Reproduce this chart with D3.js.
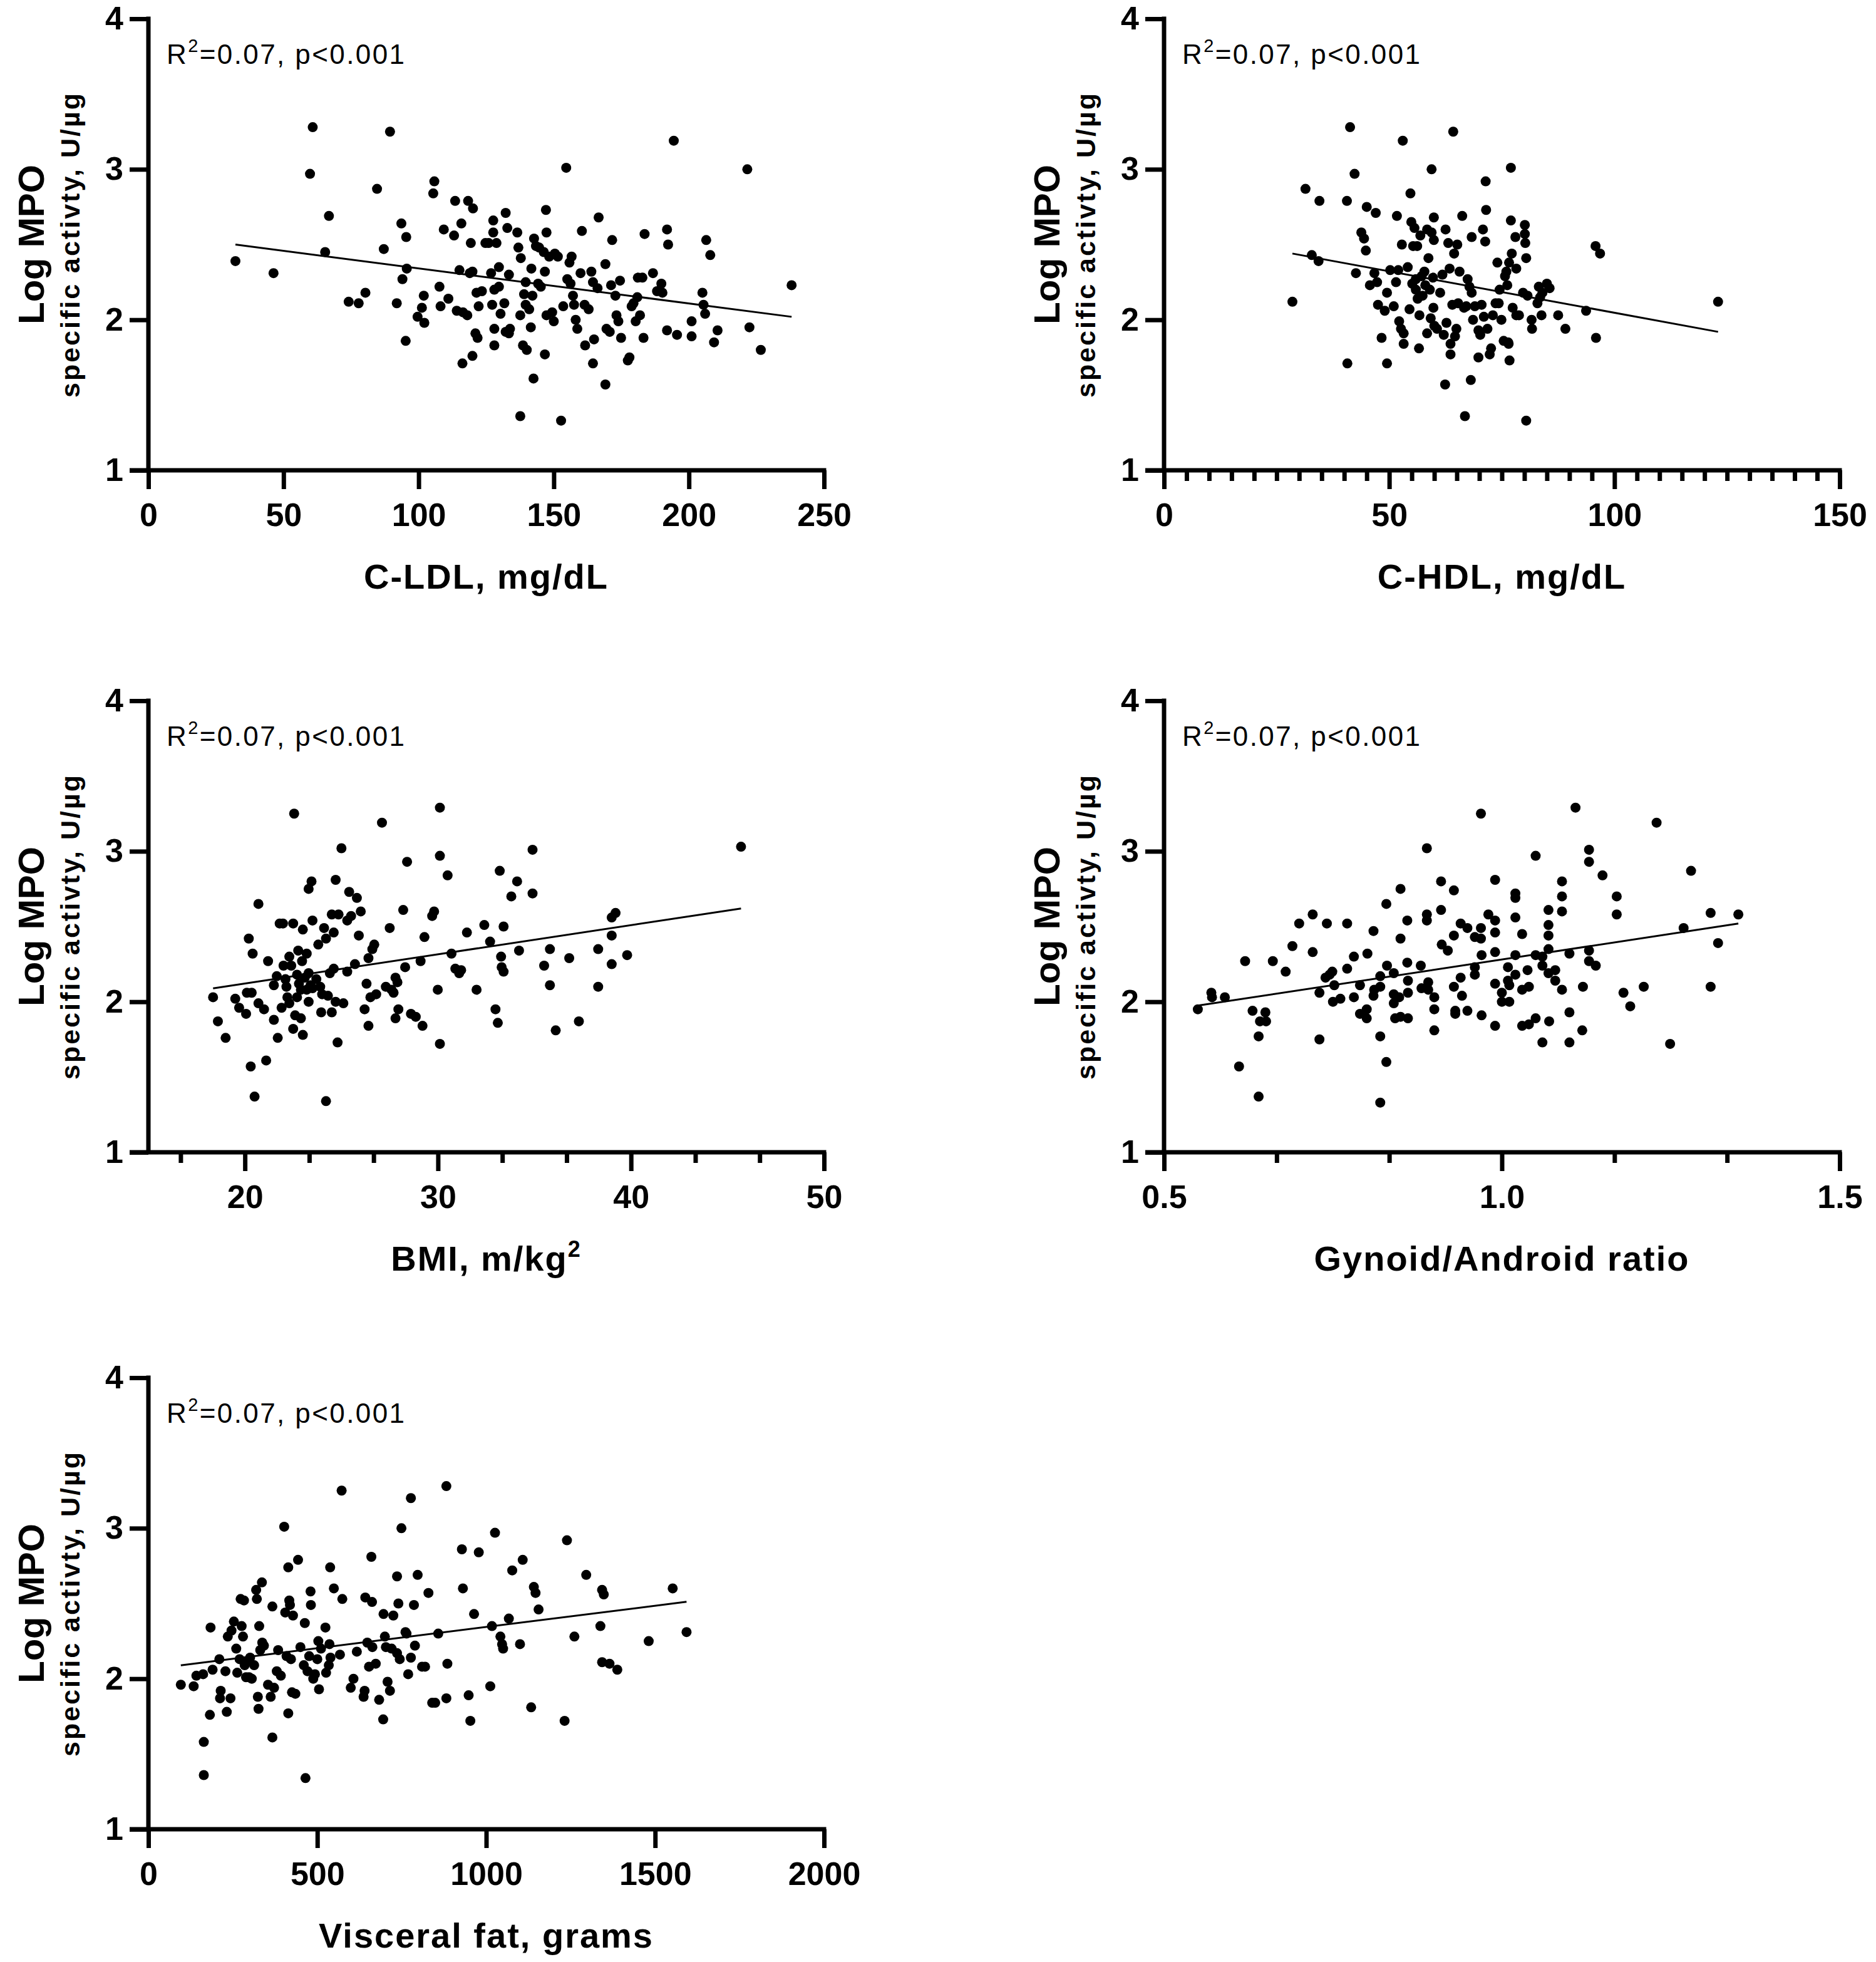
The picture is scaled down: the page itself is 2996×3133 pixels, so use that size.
<!DOCTYPE html>
<html>
<head>
<meta charset="utf-8">
<script src="https://cdn.jsdelivr.net/npm/d3@7"></script>
<style>
  html, body { margin: 0; padding: 0; background: #fff; }
  svg { display: block; }
</style>
</head>
<body>
<svg id="chart"></svg>
<script>
// ---------------- DATA ----------------
const yTickValues = [1, 2, 3, 4];
const statLabel = "=0.07, p<0.001";

// Panel A: C-LDL
const ldlX = [32.2,46.3,60.8,59.8,66.8,65.4,74.1,77.8,80.3,84.6,
87.1,89.4,91.9,93.6,95.4,94.0,95.6,95.2,99.6,102.1,
101.9,101.2,105.8,105.4,107.7,108.1,109.3,111.0,113.1,113.5,
114.1,115.1,115.8,116.2,116.4,118.3,118.0,118.9,119.3,120.1,
119.9,119.9,121.0,121.4,121.8,122.2,123.4,124.7,125.9,126.8,
127.2,127.6,127.6,128.0,128.0,128.0,128.8,129.7,129.7,130.3,
131.7,132.2,132.2,132.8,133.4,133.8,133.4,136.5,136.9,137.6,
137.6,137.8,138.6,139.0,139.6,139.6,140.0,140.9,141.5,141.7,
142.1,142.5,142.7,143.4,144.2,144.6,145.2,146.3,146.7,146.7,
147.1,147.3,147.3,148.3,149.4,150.0,150.4,151.5,152.7,153.5,
154.6,155.0,155.8,156.2,156.6,157.1,157.5,158.1,158.7,159.9,
160.4,161.4,161.6,162.9,163.9,164.5,164.5,164.9,166.2,166.6,
169.1,169.1,169.5,170.7,171.2,171.6,172.8,173.2,173.9,174.5,
174.9,177.4,178.0,178.8,179.5,180.3,180.9,181.9,181.1,182.8,
183.2,183.6,186.7,188.2,189.8,190.2,191.9,192.3,191.9,194.4,
195.6,201.0,201.0,205.0,205.4,206.0,206.4,207.9,209.3,210.6,
221.6,222.4,226.6,238.0];
const ldlY = [2.39,2.31,3.28,2.97,2.69,2.45,2.12,2.11,2.18,2.87,
2.47,3.25,2.11,2.64,2.55,2.27,2.34,1.86,2.02,1.98,
2.16,2.08,2.92,2.84,2.22,2.09,2.60,2.14,2.56,2.79,
2.06,2.33,2.64,1.71,2.05,2.79,2.03,2.31,2.51,2.74,
2.32,1.76,1.91,2.18,1.88,2.09,2.19,2.51,2.51,2.31,
2.10,2.66,2.58,1.83,1.94,2.20,2.51,2.35,2.22,2.04,
2.11,2.71,1.92,2.61,2.30,1.94,1.91,2.58,2.48,1.36,
2.03,2.41,1.83,2.17,2.25,2.10,1.80,2.07,1.95,2.34,
2.16,1.61,2.54,2.49,2.24,2.48,2.22,2.45,2.32,1.77,
2.73,2.58,2.03,2.42,2.05,1.99,2.44,2.42,1.33,2.09,
3.01,2.27,2.38,2.24,2.42,2.16,2.10,2.00,1.94,2.31,
2.59,2.10,1.83,2.07,2.32,2.25,1.71,1.87,2.21,2.68,
1.57,2.37,1.94,1.92,2.23,2.53,2.16,2.03,1.99,2.26,
1.88,1.73,1.75,2.09,2.11,1.99,2.15,2.03,2.28,2.28,
1.88,2.57,2.31,2.19,2.24,2.18,2.60,2.50,1.93,3.19,
1.90,1.99,1.89,2.18,2.10,2.04,2.53,2.43,1.85,1.93,
3.00,1.95,1.80,2.23];
const ldlFit = [-0.002332, 2.575]; // slope, intercept
const ldlTicks = [0, 50, 100, 150, 200, 250];

// Panel B: C-HDL
const hdlX = [28.5,31.4,32.8,34.3,34.5,40.6,40.7,41.3,42.3,42.6,
43.8,44.4,44.8,45.0,45.7,46.7,47.0,47.3,47.5,48.3,
49.0,49.5,49.5,50.2,51.0,51.5,51.7,52.0,52.2,52.6,
52.8,53.0,53.2,53.2,54.1,54.5,54.7,54.9,55.1,55.3,
55.6,55.9,55.9,56.2,56.3,56.6,56.7,56.9,57.2,57.4,
57.8,58.0,58.4,58.4,58.7,59.0,59.2,59.4,59.4,59.7,
59.8,59.9,59.9,60.0,60.6,61.3,61.8,62.1,62.4,62.5,
62.7,63.1,63.4,63.6,63.6,64.0,64.2,64.4,64.6,64.9,
65.1,65.3,65.6,66.2,66.6,66.8,67.1,67.4,67.8,68.1,
68.3,68.3,68.6,69.0,69.8,69.8,70.2,70.5,70.8,71.0,
71.3,71.4,71.5,71.8,72.3,72.6,73.0,73.6,74.0,74.3,
74.5,74.9,75.4,75.7,76.0,76.2,76.4,76.5,76.6,76.7,
77.0,77.0,77.2,77.4,78.0,78.2,78.2,78.8,79.7,80.1,
80.1,80.2,80.4,80.4,80.7,81.6,81.7,82.9,83.2,83.5,
83.8,84.0,85.0,85.6,87.5,89.1,93.7,95.8,95.9,96.8,
123.0];
const hdlY = [2.12,2.87,2.43,2.39,2.79,2.79,1.71,3.28,2.97,2.31,
2.58,2.54,2.46,2.75,2.23,2.31,2.71,2.25,2.10,1.88,
2.06,1.71,2.18,2.33,2.09,2.25,2.69,2.33,1.99,1.94,
2.50,3.19,1.91,1.84,2.35,2.07,2.84,2.65,2.24,2.49,
2.61,2.27,2.20,2.49,2.14,1.81,2.03,2.56,2.29,2.16,
2.32,2.23,2.60,1.91,2.41,2.20,2.01,3.00,2.58,2.28,
2.08,2.68,2.53,1.96,1.94,2.18,2.30,1.90,1.57,2.60,
1.98,2.51,2.34,1.84,1.77,2.10,3.25,2.44,1.89,1.94,
2.50,2.11,2.32,2.69,2.08,1.36,2.09,2.27,2.22,1.60,
2.18,2.55,2.00,2.09,1.75,1.93,1.90,2.10,2.60,2.02,
2.52,2.92,2.73,1.94,1.77,1.81,2.03,2.11,2.38,2.11,
2.20,2.00,1.86,2.29,2.32,2.23,1.85,1.84,2.38,1.73,
2.66,3.01,2.44,2.08,2.55,2.34,2.03,2.03,2.18,2.63,
2.57,2.51,2.41,1.33,2.16,2.00,1.94,2.11,2.22,2.15,
2.03,2.18,2.24,2.21,2.03,1.94,2.06,2.49,1.88,2.44,
2.12];
const hdlFit = [-0.005503, 2.597];
const hdlTicks = [0, 50, 100, 150];
const hdlMinorTicks = [5,10,15,20,25,30,35,40,45,55,60,65,70,75,80,85,90,95,105,110,115,120,125,130,135,140,145];

// Panel C: BMI
const bmiX = [18.35,18.6,19.0,19.5,19.7,20.06,20.1,20.2,20.3,20.35,
20.4,20.5,20.7,20.7,20.99,21.1,21.2,21.5,21.5,21.65,
21.7,21.8,21.9,21.97,22.0,22.1,22.15,22.2,22.3,22.3,
22.4,22.5,22.5,22.55,22.6,22.7,22.7,22.76,22.8,22.9,
22.9,22.96,23.0,23.0,23.1,23.2,23.2,23.3,23.3,23.3,
23.4,23.45,23.5,23.5,23.7,23.8,23.9,23.95,24.0,24.1,
24.2,24.2,24.3,24.4,24.5,24.5,24.6,24.6,24.7,24.7,
24.8,24.85,25.0,25.1,25.3,25.3,25.4,25.5,25.7,25.8,
25.9,26.0,26.2,26.3,26.4,26.4,26.5,26.6,26.7,26.8,
27.1,27.3,27.5,27.6,27.7,27.8,27.8,27.9,27.95,28.2,
28.3,28.4,28.6,28.85,29.1,29.2,29.3,29.7,29.8,29.99,
30.1,30.1,30.1,30.5,30.7,30.9,31.1,31.2,31.5,32.0,
32.4,32.7,32.98,33.1,33.2,33.27,33.3,33.4,33.4,33.8,
34.1,34.2,34.9,34.9,35.5,35.8,35.8,36.1,36.8,37.3,
38.3,38.3,39.0,39.0,39.0,39.2,39.8,45.7];
const bmiY = [2.03,1.87,1.76,2.02,1.96,1.92,2.06,2.42,1.57,2.06,
2.32,1.37,2.65,1.99,1.95,1.61,2.27,1.88,2.11,2.17,
1.76,2.52,1.96,2.52,2.24,2.15,2.10,2.03,2.30,1.99,
2.24,1.82,2.52,3.25,1.91,2.18,2.03,2.34,2.12,2.08,
1.89,2.27,1.78,2.48,2.16,2.08,2.32,2.00,2.19,2.75,
2.11,2.80,2.54,2.09,2.15,2.38,2.10,1.93,2.05,2.49,
1.34,2.42,2.04,2.19,1.93,2.58,2.46,2.22,2.81,2.00,
1.73,2.58,3.02,1.99,2.20,2.54,2.73,2.57,2.25,2.69,
2.44,2.60,1.95,2.12,2.29,1.84,2.03,2.35,2.38,2.05,
3.19,2.10,2.49,2.08,2.06,2.16,1.89,2.13,1.95,2.61,
2.23,2.93,1.92,1.90,2.27,1.84,2.43,2.57,2.60,2.08,
2.97,1.72,3.29,2.84,2.32,2.22,2.19,2.21,2.46,2.08,
2.51,2.40,1.95,1.86,2.87,2.30,2.23,2.20,2.50,2.70,
2.80,2.34,3.01,2.72,2.24,2.11,2.35,1.81,2.29,1.87,
2.35,2.10,2.44,2.25,2.56,2.59,2.31,3.03];
const bmiFit = [0.01941, 1.733];
const bmiTicks = [20, 30, 40, 50];
const bmiMinorTicks = [50/3, 70/3, 80/3, 100/3, 110/3, 130/3, 140/3];

// Panel D: Gynoid/Android ratio
const gaX = [0.550,0.570,0.571,0.590,0.611,0.620,0.631,0.640,0.640,0.642,
0.650,0.651,0.661,0.680,0.690,0.700,0.720,0.720,0.730,0.730,
0.739,0.741,0.745,0.749,0.750,0.752,0.761,0.771,0.771,0.781,
0.781,0.790,0.790,0.800,0.800,0.801,0.810,0.810,0.811,0.820,
0.820,0.820,0.820,0.829,0.829,0.830,0.840,0.840,0.840,0.842,
0.848,0.850,0.850,0.850,0.860,0.860,0.861,0.861,0.861,0.880,
0.881,0.889,0.889,0.889,0.891,0.891,0.900,0.900,0.900,0.910,
0.910,0.911,0.920,0.929,0.929,0.929,0.931,0.931,0.939,0.939,
0.941,0.949,0.949,0.960,0.960,0.960,0.969,0.969,0.969,0.970,
0.970,0.980,0.990,0.990,0.990,0.990,0.990,0.990,1.000,1.000,
1.009,1.009,1.011,1.011,1.020,1.020,1.020,1.020,1.020,1.030,
1.030,1.030,1.038,1.040,1.040,1.050,1.050,1.050,1.060,1.060,
1.060,1.069,1.069,1.069,1.069,1.069,1.070,1.079,1.079,1.089,
1.089,1.089,1.089,1.100,1.100,1.100,1.109,1.119,1.120,1.129,
1.129,1.129,1.129,1.139,1.149,1.170,1.170,1.180,1.190,1.210,
1.229,1.249,1.269,1.280,1.309,1.309,1.320,1.350];
const gaY = [1.95,2.06,2.03,2.03,1.57,2.27,1.94,1.37,1.77,1.87,
1.93,1.87,2.27,2.20,2.37,2.52,2.33,2.58,2.06,1.75,
2.16,2.52,2.18,2.20,2.00,2.11,2.02,2.52,2.22,2.30,
2.03,2.11,1.92,1.95,1.89,2.32,2.47,2.04,2.08,1.33,
1.77,2.17,2.10,2.65,1.60,2.24,2.19,2.05,1.99,1.89,
2.03,2.75,2.42,1.90,2.54,2.26,2.14,1.89,2.06,2.24,
2.09,3.02,2.58,2.54,2.13,2.08,1.81,1.95,2.03,2.80,
2.61,2.38,2.34,2.74,2.44,2.10,1.94,1.92,2.52,2.16,
2.04,2.49,1.94,2.18,2.23,2.43,3.25,2.49,2.42,2.31,
1.91,2.58,2.81,2.54,2.46,2.33,1.84,2.12,2.00,2.06,
2.23,2.14,2.00,2.11,2.72,2.69,2.56,2.31,2.18,2.45,
2.08,1.84,2.21,2.10,1.85,2.97,1.89,2.31,1.73,2.30,
2.24,2.61,2.51,2.44,2.35,2.19,1.87,2.21,2.14,2.80,
2.70,2.60,2.08,1.73,1.93,2.32,3.29,1.81,2.10,3.01,
2.93,2.34,2.27,2.24,2.84,2.70,2.58,2.06,1.97,2.10,
3.19,1.72,2.49,2.87,2.59,2.10,2.39,2.58];
const gaFit = [0.681, 1.600];
const gaTicks = [0.5, 1.0, 1.5];
const gaMinorTicks = [2/3, 5/6, 7/6, 4/3];

// Panel E: Visceral fat
const vfX = [96,134,142,162,164,164,182,184,190,210,
212,214,228,232,235,243,246,253,260,263,
270,273,276,280,283,285,289,296,298,301,
306,313,319,321,324,326,328,331,336,337,
342,354,362,367,367,372,380,384,392,402,
405,409,414,414,417,419,422,425,428,435,
443,450,460,463,465,471,476,480,481,488,
493,500,503,505,511,524,526,534,536,538,
539,549,567,572,574,599,607,617,637,640,
642,648,653,660,662,663,673,683,695,696,
700,703,708,715,720,725,736,736,740,744,
749,761,764,769,777,777,786,789,797,810,
819,829,840,849,858,882,885,882,928,931,
948,953,964,978,1012,1017,1026,1042,1047,1050,
1067,1077,1100,1108,1133,1141,1146,1155,1232,1239,
1261,1296,1338,1343,1348,1343,1365,1388,1481,1552,1593];
const vfY = [1.96,1.95,2.02,2.03,1.58,1.36,1.76,2.34,2.06,2.13,
1.87,1.92,2.05,1.78,2.28,1.87,2.32,2.38,2.20,2.04,
2.13,2.53,2.35,2.28,2.52,2.09,2.01,2.12,2.01,2.14,
2.00,2.09,2.59,2.53,1.88,1.80,2.35,2.19,2.64,2.24,
2.22,1.96,1.88,2.48,1.61,1.94,2.05,2.19,2.02,3.01,
2.44,2.15,2.74,1.77,2.52,2.49,2.13,1.91,2.42,1.90,
2.79,2.21,2.09,2.37,1.34,2.05,2.15,2.58,2.49,2.00,
2.03,2.13,2.25,1.93,2.20,2.34,2.04,2.09,2.23,2.74,
2.14,2.60,2.16,3.25,2.53,1.94,2.00,2.18,1.88,1.92,
2.54,2.24,2.08,2.81,2.51,2.21,2.10,1.86,1.73,2.43,
2.28,2.21,1.98,1.92,2.20,2.42,2.68,2.17,2.50,2.13,
3.00,2.31,2.30,2.03,3.20,2.14,2.49,2.22,2.69,2.08,
2.08,2.57,1.84,1.84,2.30,3.28,2.10,1.87,2.86,2.60,
1.89,1.72,2.43,2.84,1.95,2.35,2.97,2.28,2.23,2.20,
2.40,2.72,2.23,2.79,1.81,2.61,2.57,2.46,1.72,2.92,
2.28,2.69,2.35,2.59,2.56,2.11,2.10,2.06,2.25,2.60,2.31];
const vfFit = [0.000282, 2.062];
const vfTicks = [0, 500, 1000, 1500, 2000];

// ---------------- PANEL SPECS ----------------
const panels = [
  { xs: ldlX, ys: ldlY, fit: ldlFit, domain: [0, 250], ticks: ldlTicks, minor: [], fmt: d3.format("d"),
    title: "C-LDL, mg/dL", sup: null, left: 237, top: 30 },
  { xs: hdlX, ys: hdlY, fit: hdlFit, domain: [0, 150], ticks: hdlTicks, minor: hdlMinorTicks, fmt: d3.format("d"),
    title: "C-HDL, mg/dL", sup: null, left: 1859, top: 30 },
  { xs: bmiX, ys: bmiY, fit: bmiFit, domain: [15, 50], ticks: bmiTicks, minor: bmiMinorTicks, fmt: d3.format("d"),
    title: "BMI, m/kg", sup: "2", left: 237, top: 1119 },
  { xs: gaX, ys: gaY, fit: gaFit, domain: [0.5, 1.5], ticks: gaTicks, minor: gaMinorTicks, fmt: d3.format(".1f"),
    title: "Gynoid/Android ratio", sup: null, left: 1859, top: 1119 },
  { xs: vfX, ys: vfY, fit: vfFit, domain: [0, 2000], ticks: vfTicks, minor: [], fmt: d3.format("d"),
    title: "Visceral fat, grams", sup: null, left: 237, top: 2200 }
];

// ---------------- DRAW ----------------
const W = 2996, H = 3133;
const plotW = 1079, plotH = 721;
const FONT = "'Liberation Sans', Arial, Helvetica, sans-serif";
const AX = 7;      // axis stroke width
const TICK = 30;   // major tick length
const MINOR = 17;  // minor tick length

const svg = d3.select("#chart").attr("width", W).attr("height", H)
  .attr("viewBox", `0 0 ${W} ${H}`)
  .style("font-family", FONT);

svg.append("rect").attr("width", W).attr("height", H).attr("fill", "#fff");

panels.forEach(p => {
  const g = svg.append("g").attr("transform", `translate(${p.left},${p.top})`);
  const x = d3.scaleLinear().domain(p.domain).range([0, plotW]);
  const y = d3.scaleLinear().domain([1, 4]).range([plotH, 0]);

  // x axis (major)
  g.append("g").attr("transform", `translate(0,${plotH})`)
    .call(d3.axisBottom(x).tickValues(p.ticks).tickFormat(p.fmt)
      .tickSize(TICK).tickSizeOuter(0).tickPadding(22));
  // x axis (minor)
  if (p.minor.length) {
    g.append("g").attr("class", "minor").attr("transform", `translate(0,${plotH})`)
      .call(d3.axisBottom(x).tickValues(p.minor).tickFormat("")
        .tickSize(MINOR).tickSizeOuter(0));
  }
  // y axis
  g.append("g")
    .call(d3.axisLeft(y).tickValues(yTickValues).tickFormat(d3.format("d"))
      .tickSize(TICK).tickSizeOuter(0).tickPadding(10));

  g.selectAll(".domain").remove();
  g.selectAll(".tick line").attr("stroke", "#000").attr("stroke-width", AX);
  g.selectAll(".tick text").attr("fill", "#000")
    .style("font-family", FONT).style("font-weight", "bold").style("font-size", "52px");

  // axis lines
  g.append("line").attr("x1", -TICK).attr("x2", plotW + AX / 2)
    .attr("y1", plotH).attr("y2", plotH)
    .attr("stroke", "#000").attr("stroke-width", AX);
  g.append("line").attr("x1", 0).attr("x2", 0)
    .attr("y1", -AX / 2).attr("y2", plotH)
    .attr("stroke", "#000").attr("stroke-width", AX);

  // points
  const pts = p.xs.map((v, i) => [v, p.ys[i]]);
  g.append("g").selectAll("circle").data(pts).join("circle")
    .attr("cx", d => x(d[0])).attr("cy", d => y(d[1]))
    .attr("r", 8).attr("fill", "#000");

  // regression line across data range
  const [x0, x1] = d3.extent(p.xs);
  const fitPts = [x0, x1].map(v => [v, p.fit[0] * v + p.fit[1]]);
  g.append("path").datum(fitPts)
    .attr("d", d3.line().x(d => x(d[0])).y(d => y(d[1])))
    .attr("fill", "none").attr("stroke", "#000").attr("stroke-width", 3);

  // stats annotation
  const st = g.append("text").attr("x", 29).attr("y", 72)
    .style("font-size", "44px").style("letter-spacing", "2.4px").attr("fill", "#000");
  st.append("tspan").text("R");
  st.append("tspan").attr("dy", -19).style("font-size", "29px").text("2");
  st.append("tspan").attr("dy", 19).text(statLabel);

  // y axis titles
  g.append("text")
    .attr("transform", `translate(-167,${plotH / 2}) rotate(-90)`)
    .attr("text-anchor", "middle")
    .style("font-size", "58px").style("font-weight", "bold").attr("fill", "#000")
    .text("Log MPO");
  g.append("text")
    .attr("transform", `translate(-110,${plotH / 2}) rotate(-90)`)
    .attr("text-anchor", "middle")
    .style("font-size", "43px").style("font-weight", "bold").style("letter-spacing", "3px")
    .attr("fill", "#000")
    .text("specific activty, U/\u00b5g");

  // x axis title
  const xt = g.append("text").attr("x", plotW / 2).attr("y", plotH + 189)
    .attr("text-anchor", "middle")
    .style("font-size", "56px").style("font-weight", "bold").style("letter-spacing", "2px")
    .attr("fill", "#000");
  xt.append("tspan").text(p.title);
  if (p.sup) {
    xt.append("tspan").attr("dy", -22).style("font-size", "36px").text(p.sup);
  }
});
</script>
</body>
</html>
